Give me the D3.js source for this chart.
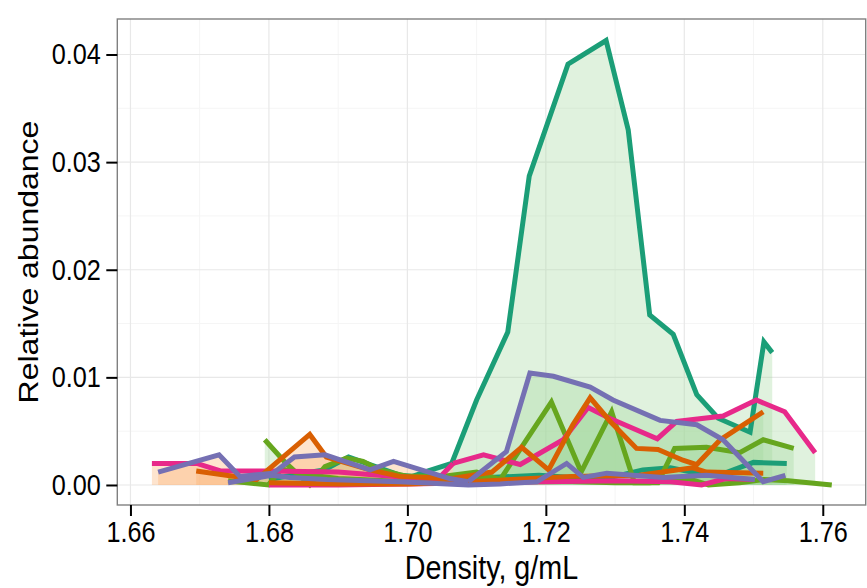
<!DOCTYPE html>
<html>
<head>
<meta charset="utf-8">
<script src="https://cdn.jsdelivr.net/npm/d3@7"></script>
<style>
  html, body { margin: 0; padding: 0; background: #ffffff; }
  svg { display: block; }
  text { font-family: "Liberation Sans", Arial, Helvetica, sans-serif; fill: #000; }
</style>
</head>
<body>
<svg id="chart" width="867" height="588"></svg>
<script>
// ---------------- data ----------------
const xTicks = [1.66, 1.68, 1.70, 1.72, 1.74, 1.76];
const xMinorTicks = [1.67, 1.69, 1.71, 1.73, 1.75];
const yTicks = [0.00, 0.01, 0.02, 0.03, 0.04];
const yMinorTicks = [0.005, 0.015, 0.025, 0.035];

const xTitle = "Density, g/mL";
const yTitle = "Relative abundance";

// teal, large peak (labelled gradient)
const tealPeakX = [1.6990, 1.7030, 1.7064, 1.7100, 1.7145, 1.7176, 1.7232, 1.7287, 1.7319, 1.7350, 1.7384, 1.7418, 1.7449, 1.7495, 1.7515, 1.7527];
const tealPeakY = [0.0004, 0.0013, 0.0020, 0.0079, 0.0142, 0.0287, 0.0391, 0.0413, 0.0330, 0.0158, 0.0140, 0.0084, 0.0062, 0.0049, 0.0133, 0.0123];
// teal, low
const tealLowX = [1.6800, 1.6840, 1.6880, 1.6915, 1.6950, 1.6990, 1.7040, 1.7087, 1.7190, 1.7280, 1.7340, 1.7380, 1.7418, 1.7450, 1.7500, 1.7548];
const tealLowY = [0.0005, 0.0010, 0.0014, 0.0026, 0.0018, 0.0009, 0.0006, 0.0006, 0.0009, 0.0005, 0.0014, 0.0016, 0.0011, 0.0009, 0.0021, 0.0020];
// pink, control part
const pinkCtrlX = [1.6631, 1.6696, 1.6730, 1.6800, 1.6900, 1.7000, 1.7045, 1.7066];
const pinkCtrlY = [0.0020, 0.0020, 0.0013, 0.0013, 0.0012, 0.0007, 0.0006, 0.0020];
// pink, labelled part
const pinkTrtX = [1.7066, 1.7110, 1.7163, 1.7225, 1.7261, 1.7292, 1.7361, 1.7389, 1.7456, 1.7504, 1.7545, 1.7589];
const pinkTrtY = [0.0020, 0.0028, 0.0019, 0.0042, 0.0072, 0.0062, 0.0043, 0.0059, 0.0064, 0.0079, 0.0068, 0.0030];
// pink, low
const pinkLowX = [1.6800, 1.6900, 1.7000, 1.7100, 1.7200, 1.7300, 1.7380, 1.7425, 1.7460, 1.7500];
const pinkLowY = [0.0000, 0.0000, 0.0001, 0.0002, 0.0003, 0.0004, 0.0003, 0.0000, 0.0006, 0.0005];
// purple, control part
const purpleCtrlX = [1.6640, 1.6728, 1.6758, 1.6806, 1.6837, 1.6881, 1.6946, 1.6980, 1.7061, 1.7088];
const purpleCtrlY = [0.0012, 0.0028, 0.0008, 0.0011, 0.0026, 0.0028, 0.0014, 0.0022, 0.0006, 0.0003];
// purple, labelled part
const purpleTrtX = [1.7088, 1.7143, 1.7177, 1.7211, 1.7264, 1.7297, 1.7365, 1.7418, 1.7456, 1.7514, 1.7546];
const purpleTrtY = [0.0003, 0.0031, 0.0104, 0.0101, 0.0091, 0.0079, 0.0060, 0.0056, 0.0042, 0.0003, 0.0009];
// purple, low
const purpleLowX = [1.6741, 1.6804, 1.6830, 1.6884, 1.6989, 1.7088, 1.7134, 1.7187, 1.7230, 1.7254, 1.7288, 1.7369, 1.7432, 1.7502];
const purpleLowY = [0.0002, 0.0009, 0.0007, 0.0005, 0.0003, 0.0000, 0.0001, 0.0003, 0.0020, 0.0007, 0.0011, 0.0007, 0.0009, 0.0005];
// orange, control part
const orangeCtrlX = [1.6695, 1.6782, 1.6859, 1.6883, 1.6946, 1.6989, 1.7066];
const orangeCtrlY = [0.0013, 0.0005, 0.0047, 0.0026, 0.0014, 0.0008, 0.0006];
// orange, labelled part
const orangeTrtX = [1.7066, 1.7122, 1.7165, 1.7204, 1.7239, 1.7264, 1.7293, 1.7331, 1.7362, 1.7398, 1.7418, 1.7452, 1.7514];
const orangeTrtY = [0.0006, 0.0012, 0.0035, 0.0014, 0.0056, 0.0081, 0.0059, 0.0034, 0.0033, 0.0023, 0.0019, 0.0042, 0.0068];
// orange, low
const orangeLowX = [1.6800, 1.6900, 1.7000, 1.7060, 1.7150, 1.7237, 1.7335, 1.7412, 1.7432, 1.7514];
const orangeLowY = [0.0002, 0.0001, 0.0001, 0.0002, 0.0005, 0.0008, 0.0009, 0.0016, 0.0012, 0.0011];
// green, main
const greenMainX = [1.6794, 1.6825, 1.6859, 1.6881, 1.6912, 1.6936, 1.6960, 1.7000, 1.7050, 1.7100, 1.7134, 1.7208, 1.7251, 1.7295, 1.7328, 1.7362, 1.7386, 1.7432, 1.7480, 1.7514, 1.7558];
const greenMainY = [0.0042, 0.0020, 0.0000, 0.0017, 0.0025, 0.0022, 0.0014, 0.0008, 0.0008, 0.0012, 0.0005, 0.0077, 0.0012, 0.0068, 0.0002, 0.0002, 0.0034, 0.0035, 0.0030, 0.0042, 0.0034];
// green, low
const greenLowX = [1.6741, 1.6799, 1.6818, 1.6850, 1.6900, 1.7000, 1.7100, 1.7200, 1.7250, 1.7300, 1.7350, 1.7405, 1.7435, 1.7480, 1.7515, 1.7550, 1.7613];
const greenLowY = [0.0004, 0.0000, 0.0015, 0.0010, 0.0006, 0.0003, 0.0006, 0.0004, 0.0003, 0.0002, 0.0002, 0.0006, 0.0000, 0.0002, 0.0005, 0.0004, 0.0000];

// series table: x, y, line colour key, fill group
const seriesList = [
  { x: tealPeakX,   y: tealPeakY,   taxon: "teal",   sample: "labelled" },
  { x: tealLowX,    y: tealLowY,    taxon: "teal",   sample: "labelled" },
  { x: greenMainX,  y: greenMainY,  taxon: "green",  sample: "labelled" },
  { x: greenLowX,   y: greenLowY,   taxon: "green",  sample: "labelled" },
  { x: pinkCtrlX,   y: pinkCtrlY,   taxon: "pink",   sample: "control" },
  { x: pinkTrtX,    y: pinkTrtY,    taxon: "pink",   sample: "labelled" },
  { x: pinkLowX,    y: pinkLowY,    taxon: "pink",   sample: "labelled" },
  { x: orangeCtrlX, y: orangeCtrlY, taxon: "orange", sample: "control" },
  { x: orangeTrtX,  y: orangeTrtY,  taxon: "orange", sample: "labelled" },
  { x: orangeLowX,  y: orangeLowY,  taxon: "orange", sample: "labelled" },
  { x: purpleCtrlX, y: purpleCtrlY, taxon: "purple", sample: "control" },
  { x: purpleTrtX,  y: purpleTrtY,  taxon: "purple", sample: "labelled" },
  { x: purpleLowX,  y: purpleLowY,  taxon: "purple", sample: "labelled" }
];

const taxonColors = { teal: "#1B9E77", orange: "#D95F02", purple: "#7570B3", pink: "#E7298A", green: "#66A61E" };
const sampleFills = { control: "#fdae6b", labelled: "#a1d99b" };

// ---------------- layout ----------------
const svg = d3.select("#chart");
const panel = { left: 117.3, right: 865.7, top: 19, bottom: 505 };
const TXS = 0.87; // horizontal squeeze of text glyphs

const x = d3.scaleLinear().domain([1.6581, 1.7662]).range([panel.left, panel.right]);
const y = d3.scaleLinear().domain([-0.00186, 0.0433]).range([panel.bottom, panel.top]);

svg.append("rect")
  .attr("x", panel.left).attr("y", panel.top)
  .attr("width", panel.right - panel.left).attr("height", panel.bottom - panel.top)
  .attr("fill", "#ffffff");

// grid
const grid = svg.append("g");
grid.selectAll(".xminor").data(xMinorTicks).enter().append("line")
  .attr("x1", d => x(d)).attr("x2", d => x(d))
  .attr("y1", panel.top).attr("y2", panel.bottom)
  .attr("stroke", "#F5F5F5").attr("stroke-width", 1);
grid.selectAll(".yminor").data(yMinorTicks).enter().append("line")
  .attr("y1", d => y(d)).attr("y2", d => y(d))
  .attr("x1", panel.left).attr("x2", panel.right)
  .attr("stroke", "#F5F5F5").attr("stroke-width", 1);
grid.selectAll(".xmajor").data(xTicks).enter().append("line")
  .attr("x1", d => x(d)).attr("x2", d => x(d))
  .attr("y1", panel.top).attr("y2", panel.bottom)
  .attr("stroke", "#E8E8E8").attr("stroke-width", 1.2);
grid.selectAll(".ymajor").data(yTicks).enter().append("line")
  .attr("y1", d => y(d)).attr("y2", d => y(d))
  .attr("x1", panel.left).attr("x2", panel.right)
  .attr("stroke", "#E8E8E8").attr("stroke-width", 1.2);

// data
svg.append("clipPath").attr("id", "clipPanel").append("rect")
  .attr("x", panel.left).attr("y", panel.top)
  .attr("width", panel.right - panel.left).attr("height", panel.bottom - panel.top);

const plotG = svg.append("g").attr("clip-path", "url(#clipPanel)");
const area = d3.area().x(d => x(d[0])).y0(y(0)).y1(d => y(d[1]));
const line = d3.line().x(d => x(d[0])).y(d => y(d[1]));
const pts = s => s.x.map((v, i) => [v, s.y[i]]);

plotG.selectAll(".area").data(seriesList).enter().append("path")
  .attr("d", s => area(pts(s)))
  .attr("fill", s => sampleFills[s.sample])
  .attr("fill-opacity", 0.33)
  .attr("stroke", "none");

plotG.selectAll(".line").data(seriesList).enter().append("path")
  .attr("d", s => line(pts(s)))
  .attr("fill", "none")
  .attr("stroke", s => taxonColors[s.taxon])
  .attr("stroke-width", 5)
  .attr("stroke-linejoin", "miter")
  .attr("stroke-miterlimit", 10)
  .attr("stroke-linecap", "butt");

// panel border
svg.append("rect")
  .attr("x", panel.left).attr("y", panel.top)
  .attr("width", panel.right - panel.left).attr("height", panel.bottom - panel.top)
  .attr("fill", "none").attr("stroke", "#808080").attr("stroke-width", 1.4);

// axes
const xAxis = d3.axisBottom(x).tickValues(xTicks).tickFormat(d3.format(".2f")).tickSize(11).tickPadding(5);
const yAxis = d3.axisLeft(y).tickValues(yTicks).tickFormat(d3.format(".2f")).tickSize(11).tickPadding(8);

const gx = svg.append("g").attr("transform", `translate(0,${panel.bottom})`).call(xAxis);
const gy = svg.append("g").attr("transform", `translate(${panel.left},0)`).call(yAxis);

[gx, gy].forEach(g => {
  g.select(".domain").remove();
  g.selectAll(".tick line").attr("stroke", "#000").attr("stroke-width", 2);
  g.selectAll(".tick text")
    .attr("fill", "#000")
    .attr("transform", `scale(${TXS},1)`)
    .style("font-family", '"Liberation Sans", Arial, sans-serif')
    .style("font-size", "29px");
});

// titles
svg.append("text")
  .attr("transform", `translate(${(panel.left + panel.right) / 2},579) scale(${TXS},1)`)
  .attr("text-anchor", "middle")
  .style("font-size", "33px")
  .text(xTitle);

svg.append("text")
  .attr("transform", `translate(38,${(panel.top + panel.bottom) / 2}) rotate(-90) scale(1,${TXS})`)
  .attr("text-anchor", "middle")
  .style("font-size", "32px")
  .text(yTitle);
</script>
</body>
</html>
